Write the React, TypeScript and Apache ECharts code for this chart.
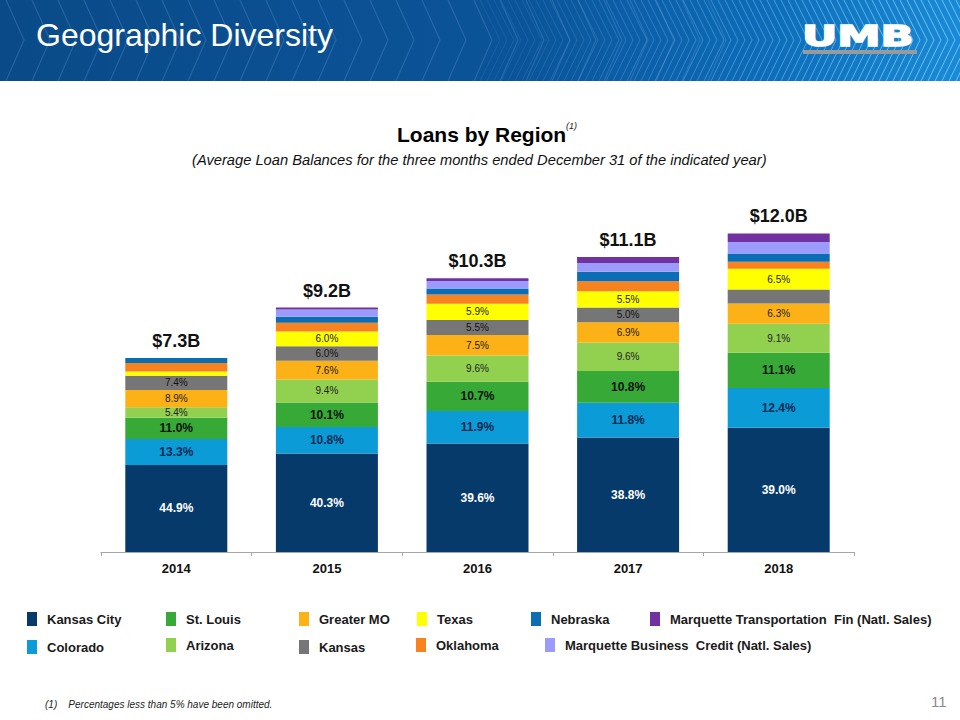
import React, { useEffect, useRef } from "react";
import * as echarts from "echarts";

const years = ["2014", "2015", "2016", "2017", "2018"];
const totals = [7.3, 9.2, 10.3, 11.1, 12.0];
const totalLabels = ["$7.3B", "$9.2B", "$10.3B", "$11.1B", "$12.0B"];

// percentage share of each region (bottom to top)
const kansasCity = [44.9, 40.3, 39.6, 38.8, 39.0];
const colorado = [13.3, 10.8, 11.9, 11.8, 12.4];
const stLouis = [11.0, 10.1, 10.7, 10.8, 11.1];
const arizona = [5.4, 9.4, 9.6, 9.6, 9.1];
const greaterMO = [8.9, 7.6, 7.5, 6.9, 6.3];
const kansas = [7.4, 6.0, 5.5, 5.0, 4.4];
const texas = [2.2, 6.0, 5.9, 5.5, 6.5];
const oklahoma = [4.3, 3.6, 3.4, 3.4, 2.2];
const nebraska = [2.6, 2.4, 2.2, 3.2, 2.6];
const marquetteBC = [0, 3.0, 2.7, 3.0, 3.6];
const marquetteTF = [0, 0.8, 1.0, 2.0, 2.7];

const FONT = "'Liberation Sans', Arial, sans-serif";

type Reg = { name: string; pct: number[]; color: string; labelColor: string; big: boolean };

const regions: Reg[] = [
  { name: "Kansas City", pct: kansasCity, color: "#063a6b", labelColor: "#ffffff", big: true },
  { name: "Colorado", pct: colorado, color: "#0b9bd7", labelColor: "#0b2a52", big: true },
  { name: "St. Louis", pct: stLouis, color: "#36a936", labelColor: "#111111", big: true },
  { name: "Arizona", pct: arizona, color: "#92d050", labelColor: "#222222", big: false },
  { name: "Greater MO", pct: greaterMO, color: "#fcb117", labelColor: "#222222", big: false },
  { name: "Kansas", pct: kansas, color: "#767676", labelColor: "#111111", big: false },
  { name: "Texas", pct: texas, color: "#ffff00", labelColor: "#222222", big: false },
  { name: "Oklahoma", pct: oklahoma, color: "#f7821e", labelColor: "#222222", big: false },
  { name: "Nebraska", pct: nebraska, color: "#0b6db3", labelColor: "#222222", big: false },
  { name: "Marquette Business  Credit (Natl. Sales)", pct: marquetteBC, color: "#9b9bfb", labelColor: "#222222", big: false },
  { name: "Marquette Transportation  Fin (Natl. Sales)", pct: marquetteTF, color: "#7131a0", labelColor: "#222222", big: false },
];

const legendPos: Record<string, [number, number]> = {
  "Kansas City": [27, 612],
  "Colorado": [27, 640],
  "St. Louis": [166, 612],
  "Arizona": [166, 638],
  "Greater MO": [299, 612],
  "Kansas": [299, 640],
  "Texas": [417, 612],
  "Oklahoma": [416, 638],
  "Nebraska": [531, 612],
  "Marquette Business  Credit (Natl. Sales)": [545, 638],
  "Marquette Transportation  Fin (Natl. Sales)": [650, 612],
};

function bannerGraphics() {
  const els: any[] = [];
  els.push({
    type: "rect",
    shape: { x: 0, y: 0, width: 960, height: 81 },
    style: {
      fill: new echarts.graphic.LinearGradient(0, 0, 1, 0, [
        { offset: 0, color: "#0a4a88" },
        { offset: 0.55, color: "#0b5499" },
        { offset: 0.8, color: "#0e6cb8" },
        { offset: 1, color: "#1a8ad6" },
      ]),
    },
    silent: true,
  });
  for (let x = -20; x < 720; x += 26) {
    els.push({
      type: "polyline",
      shape: { points: [[x, 0], [x + 18, 40], [x, 81]] },
      style: { stroke: "rgba(120,170,230,0.25)", lineWidth: 1.2, fill: null },
      silent: true,
    });
  }
  for (let x = 480; x < 980; x += 7) {
    const t = Math.min(1, Math.max(0, (x - 480) / 420));
    els.push({
      type: "polyline",
      shape: { points: [[x, 0], [x + 20, 40], [x, 81]] },
      style: { stroke: `rgba(${90 + 60 * t},${170 + 60 * t},255,${0.14 + 0.5 * t})`, lineWidth: 1, fill: null },
      silent: true,
    });
  }
  els.push({
    type: "text",
    left: 36,
    top: 19,
    style: { text: "Geographic Diversity", fill: "#ffffff", font: `32px ${FONT}` },
    silent: true,
  });
  els.push({
    type: "text",
    x: 802,
    y: 22,
    scaleX: 1.5,
    style: {
      text: "UMB",
      fill: "#ffffff",
      stroke: "#ffffff",
      lineWidth: 1.5,
      font: `bold 29px 'DejaVu Sans', sans-serif`,
    },
    silent: true,
  });
  els.push({
    type: "rect",
    shape: { x: 803, y: 50, width: 114, height: 4 },
    style: { fill: "#9a9a9a" },
    silent: true,
  });
  return els;
}

export default function App() {
  const ref = useRef<HTMLDivElement>(null);
  useEffect(() => {
    if (!ref.current) return;
    const chart = echarts.init(ref.current, null, { renderer: "svg" });

    const series: any[] = regions.map((r) => ({
      name: r.name,
      type: "bar",
      stack: "loans",
      barWidth: 102,
      itemStyle: { color: r.color },
      data: r.pct.map((p, i) => ({ value: (p * totals[i]) / 100 })),
      label: {
        show: true,
        position: "inside",
        color: r.labelColor,
        fontFamily: FONT,
        fontSize: r.big ? 12 : 10,
        fontWeight: r.big ? "bold" : "normal",
        formatter: (p: any) => (r.pct[p.dataIndex] >= 5 ? r.pct[p.dataIndex].toFixed(1) + "%" : ""),
      },
      emphasis: { disabled: true },
    }));
    series.push({
      name: "Total",
      type: "bar",
      stack: "loans",
      barWidth: 102,
      data: totals.map(() => 0),
      itemStyle: { color: "transparent" },
      label: {
        show: true,
        position: "top",
        distance: 8,
        color: "#111111",
        fontFamily: FONT,
        fontSize: 18,
        fontWeight: "bold",
        formatter: (p: any) => totalLabels[p.dataIndex],
      },
      emphasis: { disabled: true },
    });

    const legends = regions.map((r) => ({
      data: [r.name],
      left: legendPos[r.name][0],
      top: legendPos[r.name][1],
      padding: 0,
      icon: "rect",
      itemWidth: 10,
      itemHeight: 14,
      selectedMode: false,
      textStyle: { fontFamily: FONT, fontSize: 13, fontWeight: "bold", color: "#1a1a1a", padding: [0, 0, 0, 5] },
    }));

    chart.setOption({
      animation: false,
      backgroundColor: "#ffffff",
      title: [
        {
          text: "Loans by Region",
          left: 397,
          top: 124,
          padding: 0,
          textStyle: { fontFamily: FONT, fontSize: 21, fontWeight: "bold", color: "#000000" },
        },
        {
          text: "(1)",
          left: 566,
          top: 121,
          padding: 0,
          textStyle: { fontFamily: FONT, fontSize: 9, fontStyle: "italic", fontWeight: "normal", color: "#222222" },
        },
        {
          text: "(Average Loan Balances for the three months ended December 31 of the indicated year)",
          left: 192,
          top: 152,
          padding: 0,
          textStyle: { fontFamily: FONT, fontSize: 14.7, fontStyle: "italic", fontWeight: "normal", color: "#111111" },
        },
      ],
      legend: legends,
      grid: { left: 101, right: 106, top: 180, bottom: 168, containLabel: false },
      xAxis: {
        type: "category",
        data: years,
        axisLine: { show: true, lineStyle: { color: "#a6a6a6", width: 1 } },
        axisTick: { show: true, alignWithLabel: false, length: 4, lineStyle: { color: "#a6a6a6" } },
        axisLabel: { fontFamily: FONT, fontSize: 13, fontWeight: "bold", color: "#111111", margin: 10 },
      },
      yAxis: { type: "value", min: 0, max: 14, show: false, splitLine: { show: false } },
      series,
      graphic: [
        ...bannerGraphics(),
        {
          type: "text",
          left: 45,
          top: 699,
          style: { text: "(1)    Percentages less than 5% have been omitted.", fill: "#222222", font: `italic 10px ${FONT}` },
          silent: true,
        },
        {
          type: "text",
          left: 931,
          top: 694,
          style: { text: "11", fill: "#8a8a8a", font: `15px ${FONT}` },
          silent: true,
        },
      ],
    });
    return () => chart.dispose();
  }, []);
  return <div ref={ref} style={{ position: "fixed", left: 0, top: 0, width: 960, height: 720 }} />;
}
